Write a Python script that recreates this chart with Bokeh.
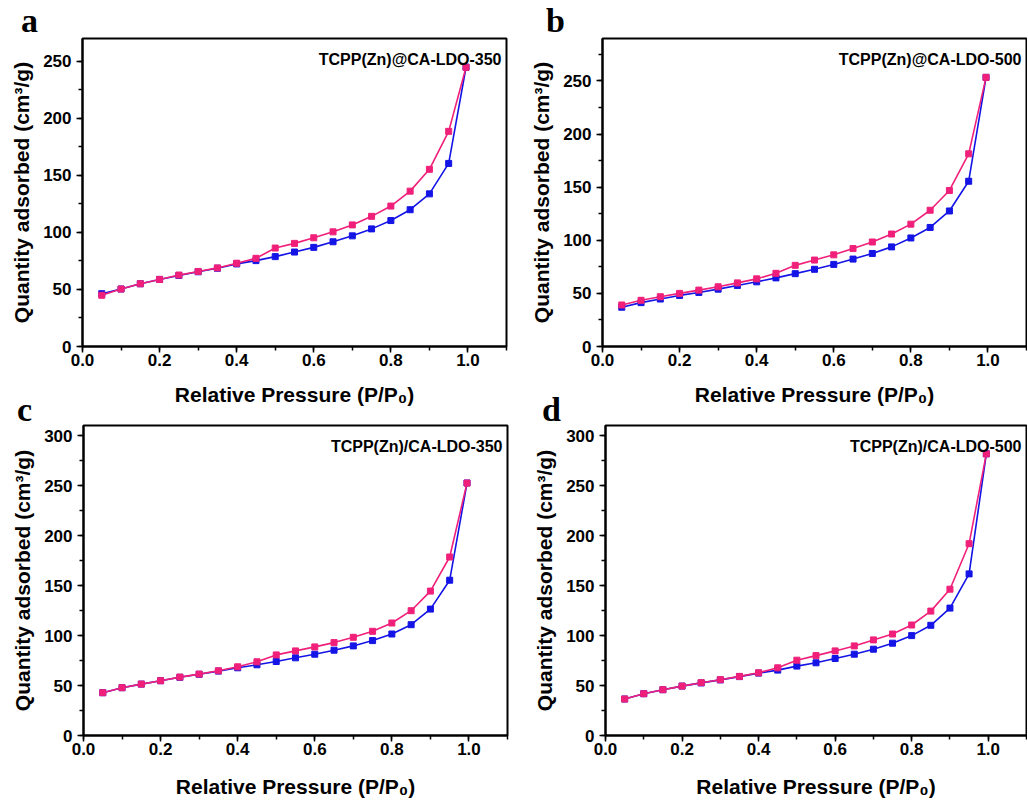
from bokeh.plotting import figure
from bokeh.models import Range1d, SingleIntervalTicker, NumeralTickFormatter, Label, Div
from bokeh.layouts import column, row
from bokeh.embed import file_html
from bokeh.resources import INLINE

# ---------------- data ----------------
pressure = [0.05, 0.10, 0.15, 0.20, 0.25, 0.30, 0.35, 0.40, 0.45, 0.50,
            0.55, 0.60, 0.65, 0.70, 0.75, 0.80, 0.85, 0.90, 0.95, 0.995]

ads_a = [46.3, 50.4, 55.0, 58.8, 62.3, 65.5, 68.6, 72.4, 75.3, 78.8,
         82.8, 86.9, 91.8, 97.0, 103.1, 110.4, 119.9, 133.8, 160.5, 244.8]
des_a = [44.9, 50.4, 55.0, 58.8, 62.6, 65.8, 68.9, 73.0, 77.3, 86.3,
         90.4, 95.3, 100.5, 106.6, 114.1, 123.1, 136.2, 155.3, 188.6, 244.8]

ads_b = [37.0, 41.3, 44.7, 48.1, 50.9, 54.0, 57.5, 60.9, 64.6, 68.6,
         72.7, 77.3, 82.3, 87.6, 93.8, 102.2, 112.1, 127.6, 155.6, 253.4]
des_b = [39.1, 43.5, 46.9, 50.0, 53.1, 56.2, 59.9, 63.7, 68.9, 76.4,
         81.4, 86.3, 92.2, 98.4, 105.9, 115.2, 128.3, 146.9, 181.4, 253.4]

ads_c = [42.8, 47.8, 51.4, 54.8, 58.2, 61.2, 64.4, 67.7, 70.7, 74.0,
         77.7, 81.3, 85.3, 89.6, 94.9, 101.5, 110.8, 126.4, 155.3, 252.5]
des_c = [42.8, 47.8, 51.4, 54.8, 58.4, 61.4, 64.7, 68.7, 73.7, 80.6,
         84.6, 88.6, 92.9, 98.2, 104.2, 112.5, 124.8, 144.4, 178.5, 252.5]

ads_d = [36.5, 41.8, 45.8, 49.4, 52.6, 55.6, 58.9, 62.4, 65.4, 69.4,
         72.7, 77.0, 81.3, 86.3, 92.3, 99.9, 110.2, 127.4, 161.6, 281.7]
des_d = [36.5, 41.8, 45.8, 49.4, 52.8, 55.8, 59.1, 62.7, 67.7, 75.3,
         79.9, 84.6, 89.6, 95.6, 101.5, 110.5, 124.4, 146.3, 191.8, 281.7]

sample_names = ["TCPP(Zn)@CA-LDO-350", "TCPP(Zn)@CA-LDO-500",
                "TCPP(Zn)/CA-LDO-350", "TCPP(Zn)/CA-LDO-500"]
panel_letters = ["a", "b", "c", "d"]
y_tops = [270, 290, 310, 310]

x_label = "Relative Pressure (P/P\u2080)"
y_label = "Quantity adsorbed (cm\u00b3/g)"

BLUE = "#1414E6"
PINK = "#F0207A"
FONT = "Liberation Sans"

# layout: (width, height, left, right, top, bottom, xlabel_standoff)
layouts = [
    (514, 408, 82, 8, 38, 58, 14),
    (513, 408, 88, 1, 37, 61, 14),
    (514, 392, 83, 7, 17, 63, 17),
    (513, 392, 91, 1, 17, 63, 17),
]
# page position (left, top) of each panel letter box
letter_pos = [(21, 4), (546, 4), (17, 393), (542, 393)]

datasets = [(ads_a, des_a), (ads_b, des_b), (ads_c, des_c), (ads_d, des_d)]


def make_panel(i):
    w, h, bl, br, bt, bb, xls = layouts[i]
    ads, des = datasets[i]
    ytop = y_tops[i]
    p = figure(width=w, height=h, output_backend="svg", toolbar_location=None,
               x_range=Range1d(0, 1.1), y_range=Range1d(0, ytop),
               min_border_left=bl, min_border_right=br,
               min_border_top=bt, min_border_bottom=bb)
    p.grid.visible = False
    p.outline_line_color = "black"
    p.outline_line_width = 2
    p.background_fill_color = "white"
    p.border_fill_color = "white"

    p.xaxis.ticker = SingleIntervalTicker(interval=0.2, num_minor_ticks=2)
    p.yaxis.ticker = SingleIntervalTicker(interval=50, num_minor_ticks=2)
    p.xaxis.formatter = NumeralTickFormatter(format="0.0")
    p.yaxis.formatter = NumeralTickFormatter(format="0")

    for ax in (p.xaxis[0], p.yaxis[0]):
        ax.axis_line_width = 2
        ax.axis_line_color = "black"
        ax.major_tick_line_width = 1.5
        ax.minor_tick_line_width = 1.5
        ax.major_tick_out = 6
        ax.major_tick_in = 0
        ax.minor_tick_out = 4
        ax.minor_tick_in = 0
        ax.major_label_text_font = FONT
        ax.major_label_text_font_style = "bold"
        ax.major_label_text_font_size = "17px"
        ax.major_label_text_color = "black"
        ax.axis_label_text_font = FONT
        ax.axis_label_text_font_style = "bold"
        ax.axis_label_text_font_size = "21px"
        ax.axis_label_text_color = "black"

    p.xaxis.major_label_standoff = 1
    p.yaxis.major_label_standoff = 5
    p.xaxis.axis_label = x_label
    p.yaxis.axis_label = y_label
    p.xaxis.axis_label_standoff = xls
    p.yaxis.axis_label_standoff = 7

    p.line(pressure, ads, line_color=BLUE, line_width=1.6)
    p.scatter(pressure, ads, marker="square", size=6, fill_color=BLUE, line_color=BLUE)
    p.line(pressure, des, line_color=PINK, line_width=1.6)
    p.scatter(pressure, des, marker="square", size=6, fill_color=PINK, line_color=PINK)

    p.add_layout(Label(x=1.1, y=ytop, x_offset=-5, y_offset=-21,
                       text=sample_names[i], text_align="right",
                       text_baseline="alphabetic", text_font=FONT,
                       text_font_style="bold", text_font_size="16px",
                       text_color="black"))
    return p


def make_letter(i):
    left, top = letter_pos[i]
    return Div(
        text=panel_letters[i],
        styles={
            "position": "absolute",
            "left": f"{left}px",
            "top": f"{top}px",
            "font-family": "'Liberation Serif', serif",
            "font-weight": "bold",
            "font-size": "34px",
            "line-height": "34px",
            "color": "black",
            "margin": "0",
            "padding": "0",
        },
    )


panels = [make_panel(i) for i in range(4)]
letters = [make_letter(i) for i in range(4)]
layout = column(row(panels[0], panels[1]), row(panels[2], panels[3]), *letters)

open("out.html", "w").write(file_html(layout, INLINE))
